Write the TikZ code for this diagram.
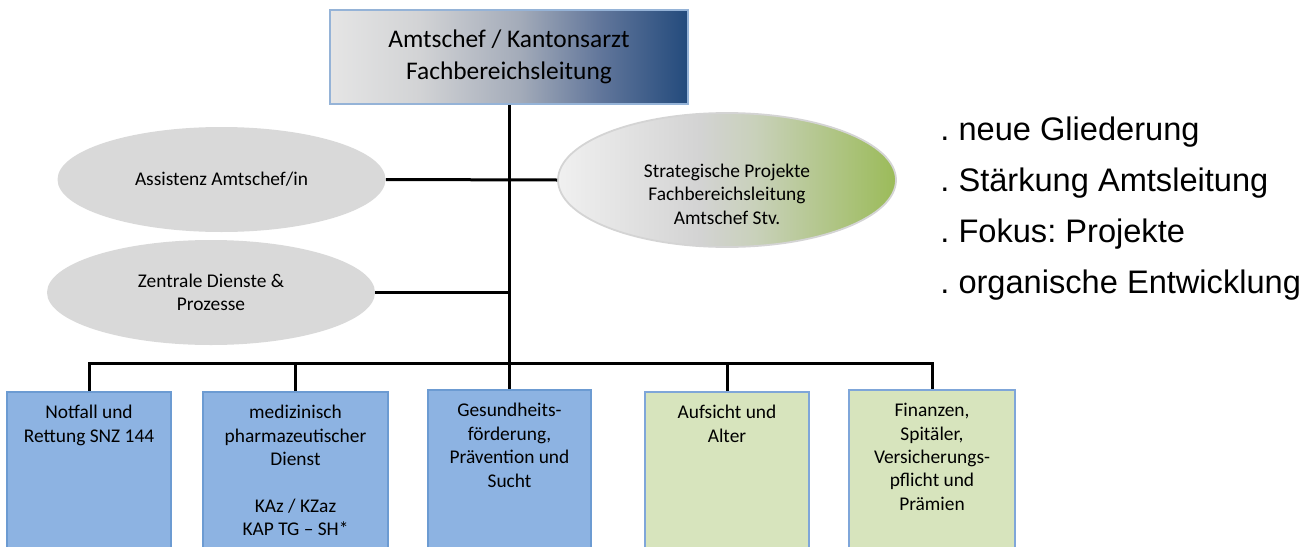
\documentclass[tikz,border=0pt]{standalone}
\usepackage{fontspec}
\setmainfont{Carlito}
\newfontfamily\arialfont{Liberation Sans}
\usetikzlibrary{shapes.geometric}
\frenchspacing

\definecolor{topedge}{HTML}{95B3D7}
\definecolor{topleft}{HTML}{E5E5E5}
\definecolor{topmidA}{HTML}{D2D3D5}
\definecolor{topmidB}{HTML}{A3ABB9}
\definecolor{topmidC}{HTML}{60759A}
\definecolor{topright}{HTML}{234A7C}
\definecolor{ellgray}{HTML}{D9D9D9}
\definecolor{stratedge}{HTML}{D4D4D4}
\definecolor{stratleft}{HTML}{F0F0F0}
\definecolor{stratmid}{HTML}{D3D3D3}
\definecolor{stratmix}{HTML}{C9D1BB}
\definecolor{stratright}{HTML}{9BBB59}
\definecolor{bluefill}{HTML}{8DB3E2}
\definecolor{blueedge}{HTML}{6C9BD2}
\definecolor{greenfill}{HTML}{D7E4BD}
\definecolor{greenedge}{HTML}{7FA6D9}

\pgfdeclarehorizontalshading{topshade}{100bp}{color(0bp)=(topleft); color(25bp)=(topleft);
  color(37.5bp)=(topmidA); color(51.5bp)=(topmidB); color(63bp)=(topmidC);
  color(75bp)=(topright); color(100bp)=(topright)}
\pgfdeclarehorizontalshading{stratshade}{100bp}{color(0bp)=(stratleft); color(25bp)=(stratleft);
  color(46bp)=(stratmid); color(54bp)=(stratmix);
  color(75bp)=(stratright); color(100bp)=(stratright)}

\begin{document}
\begin{tikzpicture}[x=0.5pt, y=-0.5pt,
            conn/.style={draw=black, line width=1.5pt},
            topbox/.style={rectangle, draw=topedge, line width=0.8pt, shading=topshade,
                minimum width=179pt, minimum height=47pt, align=center,
                font=\fontsize{12.7}{16}\selectfont},
            grayell/.style={ellipse, fill=ellgray, inner sep=0pt, minimum width=164pt,
                minimum height=52.5pt, align=center, font=\fontsize{9.7}{11.7}\selectfont},
            stratell/.style={ellipse, draw=stratedge, line width=0.9pt, shading=stratshade,
                inner sep=0pt, minimum width=169pt, minimum height=67pt},
            smalltext/.style={align=center, inner sep=0pt, font=\fontsize{9.7}{11.7}\selectfont},
            unitbox/.style={rectangle, anchor=north, line width=0.8pt, inner sep=0pt,
                minimum height=95pt},
            bluebox/.style={unitbox, draw=blueedge, fill=bluefill},
            greenbox/.style={unitbox, draw=greenedge, fill=greenfill},
            boxtext/.style={anchor=north, align=center, inner xsep=0pt, inner ysep=7pt,
                font=\fontsize{9.7}{11.7}\selectfont},
            note/.style={anchor=base west, inner sep=0pt, font=\arialfont\fontsize{16.3}{19}\selectfont}]
            \useasboundingbox (0,0) rectangle (1316,546);
            \clip (0,0) rectangle (1316,546);
            % head of office
            \node[topbox] (chef) at (509,57) {Amtschef / Kantonsarzt\\Fachbereichsleitung};
            % staff units
            \node[grayell] (assist) at (221.5,179.5) {Assistenz Amtschef/in};
            \node[grayell] (zentr) at (211,292.5) {Zentrale Dienste \&\\Prozesse};
            \node[stratell] (strat) at (727,180) {};
            \node[smalltext] (strattxt) at (727,194) {Strategische Projekte\\Fachbereichsleitung\\Amtschef Stv.};
            % departments
            \node[bluebox, minimum width=82pt,
                label={[boxtext]north:{Notfall und\\Rettung SNZ 144}}] (notfall) at (89,391) {};
            \node[bluebox, minimum width=92.5pt,
                label={[boxtext]north:{medizinisch\\pharmazeutischer\\Dienst\\[11.7pt]KAz / KZaz\\KAP TG – SH*}}] (pharma) at (295.5,391) {};
            \node[bluebox, minimum width=81.5pt,
                label={[boxtext]north:{Gesundheits-\\förderung,\\Prävention und\\Sucht}}] (gesund) at (509.5,389) {};
            \node[greenbox, minimum width=82pt,
                label={[boxtext]north:{Aufsicht und\\Alter}}] (aufsicht) at (727,391) {};
            \node[greenbox, minimum width=83pt,
                label={[boxtext]north:{Finanzen,\\Spitäler,\\Versicherungs-\\pflicht und\\Prämien}}] (finanz) at (932,389) {};
            % connectors
            \coordinate (bus) at (509,363);
            \draw[conn] (chef.south) -- (chef.south |- gesund.north);
            \draw[conn] (assist.east) -- (strat.west);
            \draw[conn] (zentr.east) -- (zentr.east -| chef.south);
            \draw[conn] (notfall.north) |- (finanz.north |- bus) -- (finanz.north);
            \draw[conn] (pharma.north) -- (pharma.north |- bus);
            \draw[conn] (aufsicht.north) -- (aufsicht.north |- bus);
            % notes
            \node[note] (n1) at (940,140) {. neue Gliederung};
            \node[note] (n2) at (940,191) {. Stärkung Amtsleitung};
            \node[note] (n3) at (940,242) {. Fokus: Projekte};
            \node[note] (n4) at (940,293) {. organische Entwicklung};
        \end{tikzpicture}
\end{document}
